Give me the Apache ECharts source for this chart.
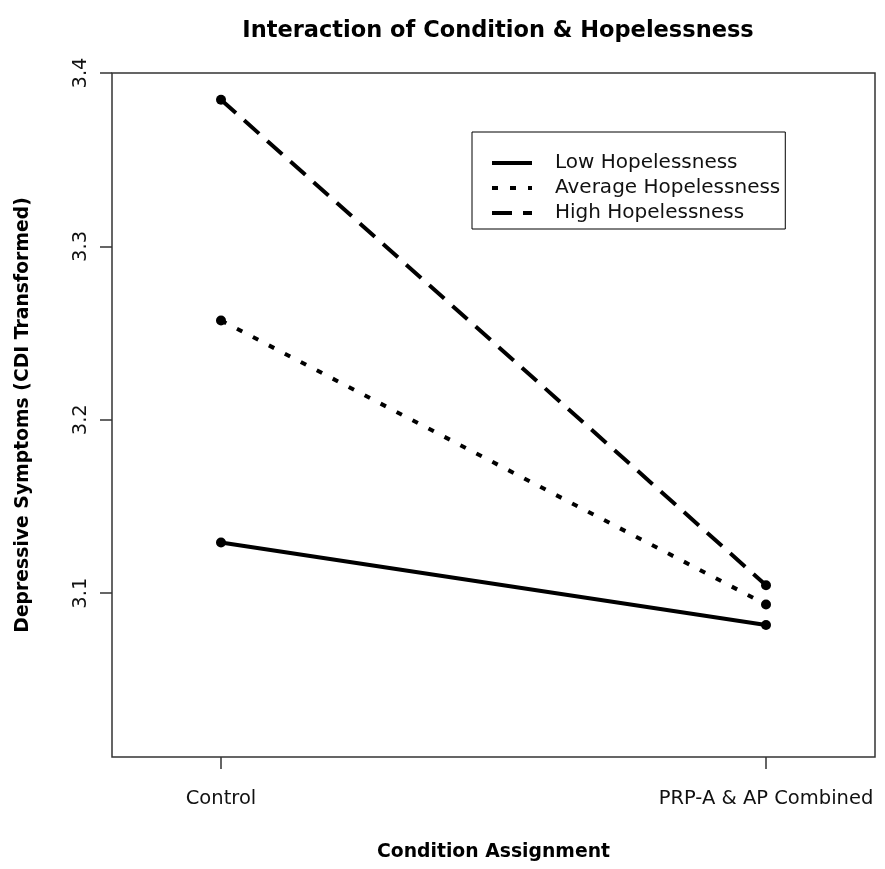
<!DOCTYPE html>
<html>
<head>
<meta charset="utf-8">
<script src="https://cdn.jsdelivr.net/npm/echarts@6/dist/echarts.min.js"></script>
<style>
  html, body { margin: 0; padding: 0; background: #fff; }
  #main { width: 885px; height: 869px; }
</style>
</head>
<body>
<div id="main"></div>
<script>
// data
const conditions = ['Control', 'PRP-A & AP Combined'];
const xPos = [1, 2];
const lowHope = [3.1292, 3.0816];
const avgHope = [3.2573, 3.0935];
const highHope = [3.3846, 3.1046];
const yTicks = [3.1, 3.2, 3.3, 3.4];

const font = 'DejaVu Sans';

function pairs(vals) {
  return xPos.map((x, i) => [x, vals[i]]);
}

var chartDom = document.getElementById('main');
var myChart = echarts.init(chartDom);
var option;

option = {
  animation: false,
  backgroundColor: '#fff',
  textStyle: { fontFamily: font, color: '#000' },
  title: {
    text: 'Interaction of Condition & Hopelessness',
    left: 493,
    textAlign: 'center',
    top: 15,
    textStyle: { fontFamily: font, fontSize: 22.5, fontWeight: 'bold', color: '#000' }
  },
  legend: {
    orient: 'vertical',
    left: 472,
    top: 132,
    data: ['Low Hopelessness', 'Average Hopelessness', 'High Hopelessness'],
    itemWidth: 40,
    itemHeight: 14,
    itemGap: 5,
    padding: [21, 5, 6, 18],
    borderColor: '#000',
    borderWidth: 1,
    borderRadius: 0,
    itemStyle: { opacity: 0 },
    lineStyle: { width: 4 },
    textStyle: { fontFamily: font, fontSize: 20, lineHeight: 20, color: '#111', padding: [0, 0, 0, 18] }
  },
  // plot box
  grid: {
    left: 112,
    right: 10,
    top: 73,
    bottom: 112,
    show: true,
    borderColor: '#333',
    borderWidth: 1.5
  },
  xAxis: {
    type: 'value',
    min: 0.8,
    max: 2.2,
    name: 'Condition Assignment',
    nameLocation: 'middle',
    nameGap: 86,
    nameTextStyle: { fontFamily: font, fontSize: 18.8, fontWeight: 'bold', color: '#000' },
    axisLine: { show: false },
    splitLine: { show: false },
    axisTick: { show: true, length: 12, customValues: xPos, lineStyle: { color: '#333', width: 1.5 } },
    axisLabel: {
      customValues: xPos,
      margin: 32,
      fontFamily: font,
      fontSize: 19.5,
      color: '#111',
      formatter: function (v) { return conditions[xPos.indexOf(v)] || ''; }
    }
  },
  yAxis: {
    type: 'value',
    min: 3.0055,
    max: 3.4,
    name: 'Depressive Symptoms (CDI Transformed)',
    nameLocation: 'middle',
    nameGap: 79,
    nameTextStyle: { fontFamily: font, fontSize: 18.8, fontWeight: 'bold', color: '#000' },
    axisLine: { show: false },
    splitLine: { show: false },
    axisTick: { show: true, length: 12, customValues: yTicks, lineStyle: { color: '#333', width: 1.5 } },
    axisLabel: {
      customValues: yTicks,
      rotate: 90,
      margin: 21,
      fontFamily: font,
      fontSize: 19.5,
      color: '#111',
      formatter: function (v) { return v.toFixed(1); }
    }
  },
  series: [
    {
      name: 'Low Hopelessness',
      type: 'line',
      data: pairs(lowHope),
      symbol: 'circle',
      symbolSize: 10,
      itemStyle: { color: '#000' },
      lineStyle: { color: '#000', width: 4, type: 'solid' }
    },
    {
      name: 'Average Hopelessness',
      type: 'line',
      data: pairs(avgHope),
      symbol: 'circle',
      symbolSize: 10,
      itemStyle: { color: '#000' },
      lineStyle: { color: '#000', width: 4, type: [6, 12] }
    },
    {
      name: 'High Hopelessness',
      type: 'line',
      data: pairs(highHope),
      symbol: 'circle',
      symbolSize: 10,
      itemStyle: { color: '#000' },
      lineStyle: { color: '#000', width: 4, type: [20, 11] }
    }
  ]
};

option && myChart.setOption(option);
</script>
</body>
</html>
